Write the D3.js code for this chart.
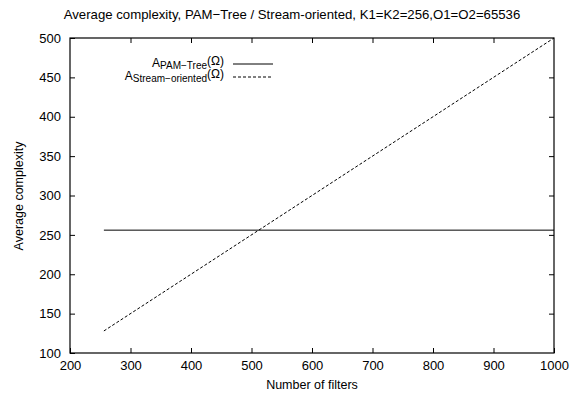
<!DOCTYPE html>
<html><head><meta charset="utf-8">
<script src="https://cdn.jsdelivr.net/npm/d3@7"></script>
<style>body{margin:0;background:#fff}svg{display:block}text{font-family:"Liberation Sans",Arial,sans-serif;fill:#000}</style>
</head><body><svg id="c" width="584" height="396"></svg>
<script>
const titleText = "Average complexity, PAM\u2212Tree / Stream-oriented, K1=K2=256,O1=O2=65536";
const xTicks = [200,300,400,500,600,700,800,900,1000];
const yTicks = [100,150,200,250,300,350,400,450,500];
const filters = [256, 1000];
const pamTree = [256, 256];
const streamOriented = [128, 500];

const svg = d3.select("#c");
const L=70, R=554, T=38, B=353;
const x = d3.scaleLinear().domain([200,1000]).range([L,R]);
const y = d3.scaleLinear().domain([100,500]).range([B,T]);
const fmt = d3.format("d");

svg.append("text").attr("x",292).attr("y",19).attr("text-anchor","middle").attr("font-size",13.2).text(titleText);

const ax = (g, axis) => { g.call(axis); g.select(".domain").remove(); g.selectAll("line").attr("stroke","#000"); g.selectAll("text").attr("font-size",13).attr("font-family","Liberation Sans, Arial, sans-serif"); };
svg.append("g").attr("transform",`translate(0,${B})`).call(g=>ax(g,d3.axisBottom(x).tickValues(xTicks).tickSize(-5).tickPadding(8).tickFormat(fmt)));
svg.append("g").attr("transform",`translate(0,${T})`).call(g=>{ax(g,d3.axisTop(x).tickValues(xTicks.slice(1,-1)).tickSize(-5).tickFormat(""));});
svg.append("g").attr("transform",`translate(${L},0)`).call(g=>ax(g,d3.axisLeft(y).tickValues(yTicks).tickSize(-5).tickPadding(9).tickFormat(fmt)));
svg.append("g").attr("transform",`translate(${R},0)`).call(g=>ax(g,d3.axisRight(y).tickValues(yTicks.slice(1,-1)).tickSize(-5).tickFormat("")));

svg.append("rect").attr("x",L).attr("y",T).attr("width",R-L).attr("height",B-T).attr("fill","none").attr("stroke","#000").attr("stroke-width",1.2);

const line = d3.line().x(d=>x(d[0])).y(d=>y(d[1]));
svg.append("path").attr("d",line(filters.map((f,i)=>[f,pamTree[i]]))).attr("fill","none").attr("stroke","#000").attr("stroke-width",1);
svg.append("path").attr("d",line(filters.map((f,i)=>[f,streamOriented[i]]))).attr("fill","none").attr("stroke","#000").attr("stroke-width",1).attr("stroke-dasharray","3,2");

// legend
const leg = [["PAM\u2212Tree",null],["Stream\u2212oriented","3,2"]];
leg.forEach((d,i)=>{
  const yy = 67 + i*13;
  const t = svg.append("text").attr("x",224).attr("y",yy).attr("text-anchor","end").attr("font-size",12);
  t.append("tspan").text("A");
  t.append("tspan").attr("font-size",10).attr("dy",2).text(d[0]);
  t.append("tspan").attr("dy",-4).text("(\u03A9)");
  svg.append("line").attr("x1",233).attr("x2",273).attr("y1",yy-3).attr("y2",yy-3).attr("stroke","#000").attr("stroke-width",1).attr("stroke-dasharray",d[1]);
});

svg.append("text").attr("x",312).attr("y",389).attr("text-anchor","middle").attr("font-size",12.5).text("Number of filters");
svg.append("text").attr("transform","translate(23,196) rotate(-90)").attr("text-anchor","middle").attr("font-size",12.5).text("Average complexity");
</script></body></html>
